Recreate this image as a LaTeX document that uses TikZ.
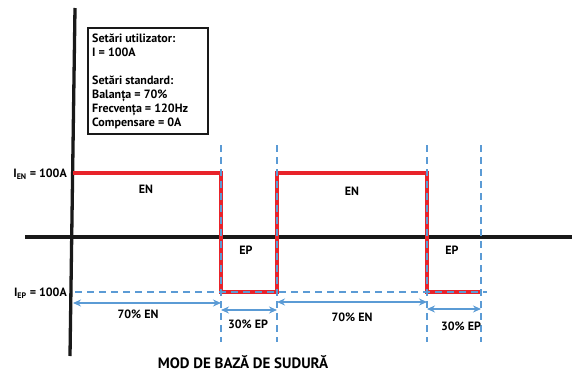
\documentclass[tikz,border=0pt]{standalone}
\usepackage{fontspec}
\setmainfont{PT Sans}
\usetikzlibrary{arrows.meta}
\definecolor{wred}{HTML}{E8232A}
\definecolor{wblue}{HTML}{5B9BD5}
\begin{document}
\begin{tikzpicture}[x=1pt,y=-1pt,
  axisline/.style={line width=3.3pt,black!90},
  wave/.style={line width=3.4pt,wred},
  guide/.style={line width=1.6pt,wblue,dash pattern=on 7pt off 5pt},
  dim/.style={line width=1.6pt,wblue,{Stealth[length=8pt,width=7pt]}-{Stealth[length=8pt,width=7pt]}},
  lbl/.style={font=\bfseries\fontsize{12}{14}\selectfont,inner sep=0pt},
  ylbl/.style={font=\bfseries\fontsize{12}{14}\selectfont,inner sep=0pt,anchor=east}]
\useasboundingbox (0,0) rectangle (573,375);
% axes
\coordinate (yt) at (75,8);
\coordinate (yb) at (70,356);
\coordinate (xl) at (25,237);
\coordinate (xr) at (572,237);
\draw[axisline] (yt) -- (yb);
\draw[axisline] (xl) -- (xr);
% waveform corners
\coordinate (w0) at (73,173);
\coordinate (w1) at (221,173);
\coordinate (w2) at (221,292);
\coordinate (w3) at (277,292);
\coordinate (w4) at (277,173);
\coordinate (w5) at (427,173);
\coordinate (w6) at (427,292);
\coordinate (w7) at (481,292);
\draw[wave,line join=miter] (w0) -- (w1) -- (w2) -- (w3) -- (w4) -- (w5) -- (w6) -- (w7);
% guides
\coordinate (g0) at (75,292);
\coordinate (g1) at (487,292);
\draw[guide] (g0) -- (g1);
\foreach \gx in {221,277,427,481}{
  \coordinate (gt\gx) at (\gx,145);
  \coordinate (gb\gx) at (\gx,342);
  \draw[guide] (gt\gx) -- (gb\gx);
}
% dimension arrows
\coordinate (a0) at (73,303);
\coordinate (a1) at (221,303);
\coordinate (b0) at (221,310);
\coordinate (b1) at (277,310);
\coordinate (c0) at (277,302);
\coordinate (c1) at (427,302);
\coordinate (d0) at (427,309);
\coordinate (d1) at (481,309);
\draw[dim] (a0) -- (a1);
\draw[dim] (b0) -- (b1);
\draw[dim] (c0) -- (c1);
\draw[dim] (d0) -- (d1);
\node[lbl] (l70a) at (138,314) {70\% EN};
\node[lbl] (l30a) at (248,324) {30\% EP};
\node[lbl] (l70b) at (352,317) {70\% EN};
\node[lbl] (l30b) at (461,326) {30\% EP};
% region labels
\node[lbl] (en1) at (146,189) {EN};
\node[lbl] (ep1) at (246,250) {EP};
\node[lbl] (en2) at (352,191) {EN};
\node[lbl] (ep2) at (452,250) {EP};
% level labels
\node[ylbl] (ien) at (67,174) {I\textsubscript{EN} = 100A};
\node[ylbl] (iep) at (67,293) {I\textsubscript{EP} = 100A};
% settings box
\node[draw,line width=1.6pt,black!90,minimum width=120pt,minimum height=106pt,anchor=north west,inner sep=0pt] (box) at (87,27) {};
\node[anchor=north west,inner sep=0pt,align=left,font=\bfseries\fontsize{12}{14}\selectfont] (boxtxt) at (92,34)
{Setări utilizator:\\I = 100A\\[14pt]Setări standard:\\Balanța = 70\%\\Frecvența = 120Hz\\Compensare = 0A};
% title
\node[font=\bfseries\fontsize{15}{17}\selectfont,inner sep=0pt] (title) at (243,362) {MOD DE BAZĂ DE SUDURĂ};
\end{tikzpicture}
\end{document}
